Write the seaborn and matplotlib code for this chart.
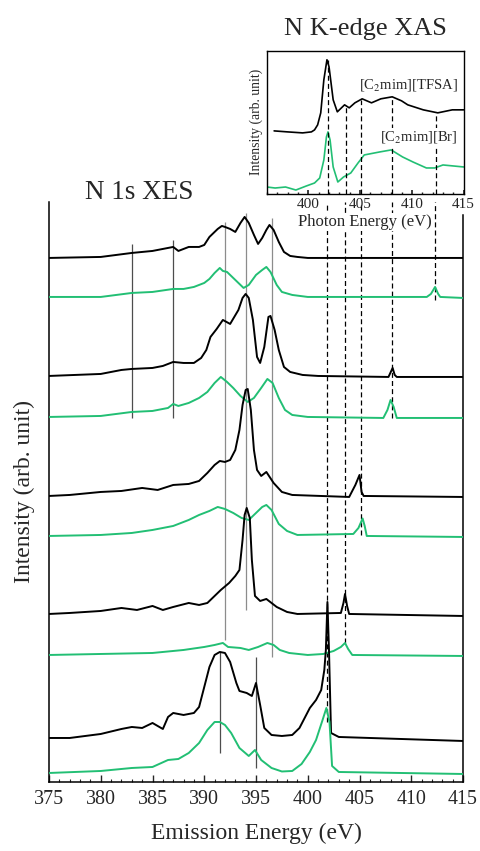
import numpy as np
import matplotlib
matplotlib.use("Agg")
import matplotlib.pyplot as plt
import seaborn as sns
from matplotlib.ticker import MultipleLocator

sns.set_theme(style="ticks")
plt.rcParams['font.family'] = ['Liberation Serif', 'DejaVu Serif']
plt.rcParams['mathtext.fontset'] = 'stix'

GREEN = '#22bf74'

# ---- N 1s XES spectra (top to bottom), energy (eV) and intensity above own baseline
p1k_e = [375, 380, 383, 385, 386, 387, 387.5, 388.5, 389.5, 390, 390.5, 391.3, 391.7, 392.0, 392.5, 393.0,
         393.5, 393.9, 394.3, 394.8, 395.2, 395.6, 396.0, 396.3, 396.7, 397.2, 397.7, 398.3, 399, 400, 405, 410, 415]
p1k_i = [0, 0.1, 0.5, 0.7, 0.9, 1.1, 0.7, 1.1, 1.1, 1.3, 2.1, 2.9, 3.2, 3.1, 2.9, 2.6,
         3.5, 4.1, 3.5, 2.3, 1.4, 2.0, 2.8, 3.3, 2.8, 1.6, 0.6, 0.2, 0.1, 0, 0, 0, 0]

p1g_e = [375, 380, 383, 385, 387, 388, 389, 390, 390.5, 391, 391.5, 391.8, 392.2, 392.5, 393.3, 393.8,
         394.3, 395, 395.6, 396.0, 396.4, 397, 397.5, 398.5, 400, 411.5, 411.9, 412.3, 412.6, 412.8, 415]
p1g_i = [0, 0, 0.4, 0.5, 0.8, 0.8, 1.0, 1.4, 1.8, 2.4, 2.9, 2.6, 2.5, 2.2, 1.4, 0.9,
         1.2, 2.2, 2.7, 3.0, 2.5, 1.2, 0.5, 0.2, 0, 0, 0.3, 1.0, 0.3, 0, -0.1]

p2k_e = [375, 380, 382, 383, 385, 386, 387, 388, 389, 389.7, 390.2, 390.6, 391.2, 391.8, 392.5, 393.3,
         393.7, 394.0, 394.3, 394.7, 395.1, 395.4, 395.8, 396.2, 396.4, 396.8, 397.2, 397.7, 398.3, 399.5,
         401, 407.8, 408.2, 408.4, 408.6, 415]
p2k_i = [0, 0.2, 0.6, 0.7, 0.8, 1.0, 1.4, 1.3, 1.3, 1.8, 2.6, 3.9, 4.7, 5.6, 5.2, 6.6,
         7.8, 8.2, 7.8, 5.6, 1.9, 1.3, 2.9, 5.9, 6.0, 4.6, 2.6, 0.9, 0.4, 0.1,
         0, -0.1, 0.8, 0.1, -0.1, -0.1]

p2g_e = [375, 380, 383, 385, 386.5, 387, 387.5, 388.5, 389.5, 390.3, 391, 391.6, 392.2, 392.8, 393.5,
         394.2, 394.8, 395.5, 396.1, 396.6, 397.2, 397.8, 398.5, 400, 407.3, 407.7, 408.0, 408.3, 408.6, 415]
p2g_i = [0, 0.1, 0.5, 0.6, 0.9, 1.3, 1.1, 1.4, 1.9, 2.5, 3.4, 4.0, 3.5, 2.9, 2.1,
         1.5, 1.9, 2.9, 3.8, 3.4, 1.9, 0.7, 0.2, 0, -0.1, 0.7, 1.7, 1.0, -0.1, -0.1]

p3k_e = [375, 377, 380, 382, 384, 385.5, 387, 388.5, 389.5, 390.3, 391, 391.5, 392, 392.5, 393, 393.4,
         393.7, 394.0, 394.2, 394.5, 394.8, 395.1, 395.5, 396.0, 396.7, 397.5, 398.5, 404, 404.6, 405.0,
         405.2, 405.4, 415]
p3k_i = [0, 0.1, 0.4, 0.5, 0.8, 0.6, 1.1, 1.2, 1.5, 2.3, 3.1, 3.5, 3.4, 3.6, 4.6, 6.6,
         9.1, 10.6, 10.7, 8.6, 4.6, 2.6, 2.0, 2.4, 1.3, 0.4, 0.1, -0.1, 1.1, 2.1,
         0.4, 0, -0.1]

p3g_e = [375, 380, 383, 385, 387, 388.5, 389.5, 390.5, 391.3, 392.0, 392.8, 393.6, 394.3, 395, 395.6,
         396.0, 396.5, 397.2, 398, 399, 404.4, 404.9, 405.3, 405.5, 405.7, 415]
p3g_i = [0, 0.1, 0.3, 0.6, 1.0, 1.6, 2.1, 2.5, 2.9, 2.7, 2.3, 1.8, 1.6, 2.3, 2.9,
         3.1, 2.6, 1.2, 0.5, 0.1, 0.2, 0.8, 1.75, 1.0, 0, -0.1]

p4k_e = [375, 377, 380, 382, 383.5, 385, 386, 387, 388.5, 389.5, 390.3, 391, 391.6, 392.4, 393, 393.4,
         393.7, 393.9, 394.1, 394.4, 394.6, 394.9, 395.4, 396.0, 396.5, 397, 398, 399, 403.2, 403.45,
         403.6, 403.8, 404.0, 415]
p4k_i = [0, 0.1, 0.3, 0.6, 0.4, 0.8, 0.4, 0.7, 1.1, 0.9, 1.1, 1.8, 2.4, 3.1, 3.8, 4.4,
         7.4, 9.9, 10.6, 9.6, 5.4, 1.8, 1.3, 1.5, 1.1, 0.7, 0.2, 0, 0.1, 1.1,
         2.0, 0.8, 0, -0.2]

p4g_e = [375, 380, 385, 388, 390, 391, 391.8, 392.3, 393.5, 394.3, 395.2, 396.1, 396.7, 397.3, 398.2,
         400, 401.5, 402.5, 403.2, 403.6, 403.9, 404.3, 415]
p4g_i = [0, 0.1, 0.2, 0.5, 0.8, 1.0, 1.2, 0.8, 0.7, 0.5, 0.8, 1.2, 1.0, 0.5, 0.2,
         0, 0.1, 0.4, 0.8, 1.2, 0.6, 0, -0.1]

p5k_e = [375, 377, 380, 382, 383, 384, 385, 386, 386.5, 387, 388, 389, 389.5, 390, 390.5, 391, 391.5,
         392, 392.5, 393.1, 393.4, 394.1, 394.6, 395.0, 395.4, 395.8, 396.5, 397.5, 398.5, 399.2, 400.2,
         400.8, 401.3, 401.6, 401.75, 401.9, 402.05, 402.25, 403, 415]
p5k_i = [0, 0, 0.4, 0.9, 1.1, 1.0, 1.5, 0.9, 2.1, 2.5, 2.3, 2.5, 3.1, 5.1, 7.1, 8.3, 8.6,
         8.5, 7.6, 5.5, 4.7, 4.5, 4.2, 5.5, 3.3, 1.0, 0.3, 0.2, 0.3, 1.0, 3.0,
         3.8, 4.8, 6.8, 8.8, 13.6, 8.8, 0.5, 0.1, -0.3]

p5g_e = [375, 380, 383, 385, 386.5, 387.5, 388.5, 389.5, 390.3, 391, 391.5, 392, 392.6, 393.4, 394.3,
         394.9, 395.5, 396.5, 397.5, 398.5, 399.4, 400.2, 400.8, 401.4, 401.8, 402.1, 402.35, 403, 415]
p5g_i = [0, 0.2, 0.5, 0.6, 1.3, 1.4, 2.0, 3.0, 4.3, 5.1, 5.1, 4.8, 4.0, 2.5, 1.7,
         2.3, 1.3, 0.5, 0.15, 0.2, 0.9, 2.1, 3.3, 5.2, 6.5, 5.1, 0.7, 0.1, -0.1]

offsets = [52.4, 48.5, 40.6, 36.5, 28.6, 24.6, 16.8, 12.7, 4.4, 0.9]

# assignment lines (eV) and their extent
solid_e = [383.0, 387.0, 392.0, 394.0, 396.5, 391.5, 395.0]
solid_lo = [36.4, 36.4, 14.2, 17.2, 12.5, 2.9, 1.4]
solid_hi = [53.8, 54.2, 56.0, 56.9, 56.4, 13.0, 12.5]
solid_c = ['0.3', '0.3', '0.55', '0.55', '0.55', '0.3', '0.3']

dash_e = [401.9, 403.6, 405.1, 408.1, 412.3]
dash_lo = [6.0, 13.9, 24.7, 36.4, 48.2]

# ---- N K-edge XAS (inset)
tfsa_e = [396.7, 398, 399.45, 400.3, 400.6, 400.9, 401.2, 401.5, 401.8, 402.0, 402.4, 402.8, 403.5, 403.95,
          404.5, 405.2, 406.1, 407.0, 408.1, 409.0, 409.6, 410.5, 411.1, 412.5, 413.9, 415]
tfsa_i = [0.0, -0.1, -0.2, -0.1, 0.1, 0.6, 1.8, 5.1, 7.1, 6.4, 3.1, 1.9, 2.6, 2.3,
          2.8, 3.2, 2.8, 3.2, 3.4, 3.0, 2.6, 2.3, 2.1, 1.8, 2.1, 2.1]
br_e = [396, 396.8, 397.8, 398.8, 399.8, 400.6, 401.1, 401.5, 401.75, 401.9, 402.1, 402.4, 402.85, 403.4,
        404.1, 404.8, 405.4, 406.9, 408.0, 409.1, 410.1, 411.4, 412.2, 413.0, 414, 415]
br_i = [0.1, 0.0, 0.1, -0.2, 0.2, 0.5, 1.0, 2.8, 5.1, 5.6, 4.8, 2.1, 0.6, 1.1,
        1.5, 2.5, 3.3, 3.6, 3.8, 3.1, 2.6, 2.0, 2.0, 2.3, 2.2, 2.1]
xas_offsets = [6.3, 0.6]
xas_dash_hi = [13.4, 8.9, 9.4, 9.7, 8.1]

fig = plt.figure(figsize=(4.8, 8.51), dpi=100)
ax = fig.add_axes([0.1021, 0.0811, 0.8625, 0.6816])

spectra = [(p1k_e, p1k_i), (p1g_e, p1g_i), (p2k_e, p2k_i), (p2g_e, p2g_i), (p3k_e, p3k_i),
           (p3g_e, p3g_i), (p4k_e, p4k_i), (p4g_e, p4g_i), (p5k_e, p5k_i), (p5g_e, p5g_i)]
for n, ((e, i), off) in enumerate(zip(spectra, offsets)):
    col = 'black' if n % 2 == 0 else GREEN
    sns.lineplot(x=np.array(e), y=np.array(i) + off, color=col, lw=1.4, ax=ax, zorder=3)

for e, lo, hi, c in zip(solid_e, solid_lo, solid_hi, solid_c):
    ax.vlines(e, lo, hi, color=c, lw=0.9, zorder=2)
ax.vlines(dash_e, dash_lo, 58, color='black', lw=0.9, linestyles=(0, (4, 2.5)), zorder=2)

ax.set_xlim(375, 415)
ax.set_ylim(0, 58)
ax.set_yticks([])
ax.xaxis.set_major_locator(MultipleLocator(5))
ax.xaxis.set_minor_locator(MultipleLocator(1))
ax.tick_params(axis='x', which='major', direction='in', length=5, width=1, labelsize=14.4, pad=6)
ax.tick_params(axis='x', which='minor', direction='in', length=2.5, width=0.8)
for s in ['left', 'bottom', 'right']:
    ax.spines[s].set_color('black')
    ax.spines[s].set_linewidth(1.1)
ax.spines['top'].set_visible(False)
ax.spines['right'].set_bounds(0, 56.7)
ax.set_xlabel('Emission Energy (eV)', fontsize=17, labelpad=10)
ax.set_ylabel('Intensity (arb. unit)', fontsize=17, labelpad=10)
fig.text(139.5 / 480, 1 - 193 / 851, 'N 1s XES', ha='center', va='center', fontsize=19.5)

# inset
ax_in = fig.add_axes([0.556, 0.772, 0.41, 0.1684])
sns.lineplot(x=np.array(tfsa_e), y=np.array(tfsa_i) + xas_offsets[0], color='black', lw=1.2, ax=ax_in)
sns.lineplot(x=np.array(br_e), y=np.array(br_i) + xas_offsets[1], color=GREEN, lw=1.2, ax=ax_in)
ax_in.vlines(dash_e, 0, xas_dash_hi, color='black', lw=0.9, linestyles=(0, (4, 2.5)))
ax_in.set_xlim(396, 415)
ax_in.set_ylim(0, 14.3)
ax_in.set_yticks([])
ax_in.xaxis.set_major_locator(MultipleLocator(5))
ax_in.xaxis.set_minor_locator(MultipleLocator(1))
ax_in.tick_params(axis='x', which='major', direction='in', length=3, labelsize=11, pad=3)
ax_in.tick_params(axis='x', which='minor', direction='in', length=1.5)
for s in ax_in.spines.values():
    s.set_color('black')
    s.set_linewidth(1.0)
ax_in.set_xlabel('Photon Energy (eV)', fontsize=12, labelpad=2)
ax_in.xaxis.label.set_bbox(dict(facecolor='white', edgecolor='none', pad=1))
ax_in.set_ylabel('Intensity (arb. unit)', fontsize=9.8, labelpad=3)
ax_in.set_title('N K-edge XAS', fontsize=19, pad=11)
ax_in.text(414.4, 10.85, '[C$_2$mim][TFSA]', ha='right', va='center', fontsize=10.5,
           bbox=dict(facecolor='white', edgecolor='none', pad=0.5))
ax_in.text(414.4, 5.7, '[C$_2$mim][Br]', ha='right', va='center', fontsize=10.5,
           bbox=dict(facecolor='white', edgecolor='none', pad=0.5))

fig.savefig('out.png', dpi=100)
